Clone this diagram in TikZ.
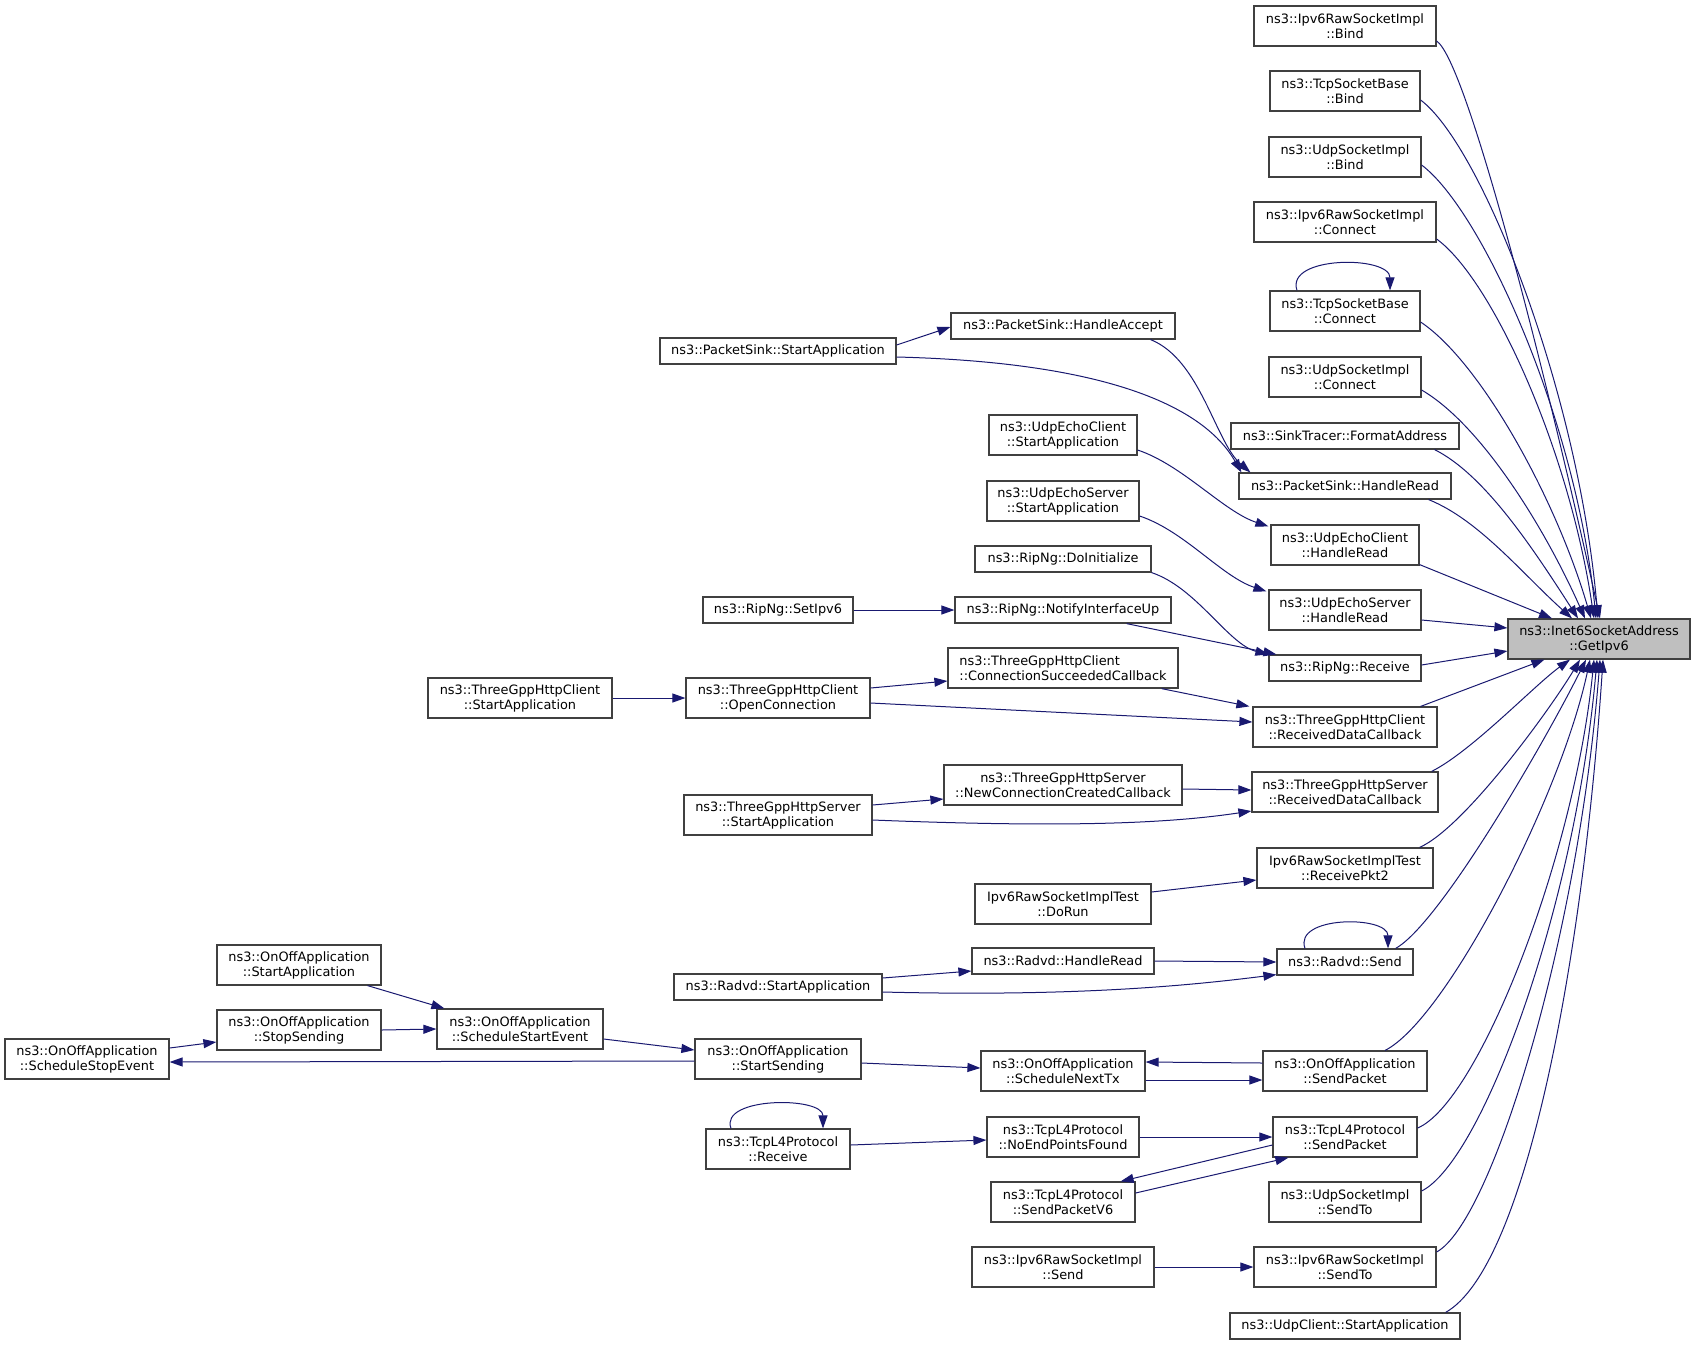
\documentclass[tikz,border=0pt]{standalone}
\usepackage{fontspec}
\setmainfont{DejaVu Sans}
\usetikzlibrary{arrows.meta}
\definecolor{callblue}{HTML}{191970}
\definecolor{boxgrey}{HTML}{404040}
\definecolor{rootgrey}{HTML}{BFBFBF}

\begin{document}
\begin{tikzpicture}[%
    >={Triangle[length=13pt,width=9pt]}, % Filled arrows as in the call graph
    x=1pt, y=1pt,                        % One unit is one pixel
    ]
% -------------------------------------------------
% A few box styles
\tikzset{
  base/.style={draw=boxgrey, line width=1.2pt, fill=white, inner sep=0pt,
    align=center, font=\fontsize{12.9}{15}\selectfont},
  fn/.style={base, minimum height=40pt},
  fnone/.style={base, minimum height=26pt},
  root/.style={fn, fill=rootgrey},
  wd/.style={minimum width=#1pt},
  % Connector line style
  call/.style={->, draw=callblue, line width=1pt},
}
\useasboundingbox (0,0) rectangle (1695,-1345);
% -------------------------------------------------
% Start by placing the nodes
\node [root, wd=182] (get) at (1599,-639) {ns3::Inet6SocketAddress\\::GetIpv6};
% Direct callers
\node [fn, wd=182] (bind6) at (1345,-26) {ns3::Ipv6RawSocketImpl\\::Bind};
\node [fn, wd=150] (tcpbind) at (1345,-91) {ns3::TcpSocketBase\\::Bind};
\node [fn, wd=152] (udpbind) at (1345,-157) {ns3::UdpSocketImpl\\::Bind};
\node [fn, wd=182] (conn6) at (1345,-222) {ns3::Ipv6RawSocketImpl\\::Connect};
\node [fn, wd=150] (tcpconn) at (1345,-311) {ns3::TcpSocketBase\\::Connect};
\node [fn, wd=152] (udpconn) at (1345,-377) {ns3::UdpSocketImpl\\::Connect};
\node [fnone, wd=228] (fmtaddr) at (1345,-436) {ns3::SinkTracer::FormatAddress};
\node [fnone, wd=212] (sinkread) at (1345,-486) {ns3::PacketSink::HandleRead};
\node [fn, wd=148] (ecread) at (1345,-545) {ns3::UdpEchoClient\\::HandleRead};
\node [fn, wd=152] (esread) at (1345,-610) {ns3::UdpEchoServer\\::HandleRead};
\node [fnone, wd=152] (riprecv) at (1345,-668) {ns3::RipNg::Receive};
\node [fn, wd=184] (hcrecv) at (1345,-727) {ns3::ThreeGppHttpClient\\::ReceivedDataCallback};
\node [fn, wd=186] (hsrecv) at (1345,-792) {ns3::ThreeGppHttpServer\\::ReceivedDataCallback};
\node [fn, wd=176] (pkt2) at (1345,-868) {Ipv6RawSocketImplTest\\::ReceivePkt2};
\node [fnone, wd=136] (rsend) at (1345,-962) {ns3::Radvd::Send};
\node [fn, wd=164] (oosend) at (1345,-1071) {ns3::OnOffApplication\\::SendPacket};
\node [fn, wd=144] (tcpsend) at (1345,-1137) {ns3::TcpL4Protocol\\::SendPacket};
\node [fn, wd=152] (udpsendto) at (1345,-1202) {ns3::UdpSocketImpl\\::SendTo};
\node [fn, wd=182] (sendto6) at (1345,-1267) {ns3::Ipv6RawSocketImpl\\::SendTo};
\node [fnone, wd=230] (ucstart) at (1345,-1326) {ns3::UdpClient::StartApplication};
% Second level
\node [fnone, wd=224] (accept) at (1063,-326) {ns3::PacketSink::HandleAccept};
\node [fn, wd=148] (ecstart) at (1063,-435) {ns3::UdpEchoClient\\::StartApplication};
\node [fn, wd=152] (esstart) at (1063,-501) {ns3::UdpEchoServer\\::StartApplication};
\node [fnone, wd=176] (ripinit) at (1063,-559) {ns3::RipNg::DoInitialize};
\node [fnone, wd=216] (ripup) at (1063,-610) {ns3::RipNg::NotifyInterfaceUp};
\node [fn, wd=230, align=left] (connok) at (1063,-668) {ns3::ThreeGppHttpClient\\::ConnectionSucceededCallback};
\node [fn, wd=238] (newconn) at (1063,-785) {ns3::ThreeGppHttpServer\\::NewConnectionCreatedCallback};
\node [fn, wd=176] (dorun) at (1063,-904) {Ipv6RawSocketImplTest\\::DoRun};
\node [fnone, wd=182] (rread) at (1063,-961) {ns3::Radvd::HandleRead};
\node [fn, wd=164] (nexttx) at (1063,-1071) {ns3::OnOffApplication\\::ScheduleNextTx};
\node [fn, wd=152] (noend) at (1063,-1137) {ns3::TcpL4Protocol\\::NoEndPointsFound};
\node [fn, wd=144] (sendv6) at (1063,-1202) {ns3::TcpL4Protocol\\::SendPacketV6};
\node [fn, wd=182] (rawsend) at (1063,-1267) {ns3::Ipv6RawSocketImpl\\::Send};
% Third level
\node [fnone, wd=236] (sinkstart) at (778,-351) {ns3::PacketSink::StartApplication};
\node [fnone, wd=150] (setipv6) at (778,-610) {ns3::RipNg::SetIpv6};
\node [fn, wd=184] (openconn) at (778,-698) {ns3::ThreeGppHttpClient\\::OpenConnection};
\node [fn, wd=188] (hsstart) at (778,-815) {ns3::ThreeGppHttpServer\\::StartApplication};
\node [fnone, wd=208] (rstart) at (778,-987) {ns3::Radvd::StartApplication};
\node [fn, wd=166] (startsend) at (778,-1059) {ns3::OnOffApplication\\::StartSending};
\node [fn, wd=144] (tcprecv) at (778,-1149) {ns3::TcpL4Protocol\\::Receive};
% Outer levels
\node [fn, wd=184] (hcstart) at (520,-698) {ns3::ThreeGppHttpClient\\::StartApplication};
\node [fn, wd=166] (schedstart) at (520,-1029) {ns3::OnOffApplication\\::ScheduleStartEvent};
\node [fn, wd=164] (oostart) at (299,-965) {ns3::OnOffApplication\\::StartApplication};
\node [fn, wd=164] (stopsend) at (299,-1030) {ns3::OnOffApplication\\::StopSending};
\node [fn, wd=164] (schedstop) at (87,-1059) {ns3::OnOffApplication\\::ScheduleStopEvent};

% -------------------------------------------------
% Calls into GetIpv6 from above
\draw [call] ([yshift=-15pt]bind6.east) .. controls +(30,-20) and +(-55,250) .. ([xshift=1pt]get.north);
\draw [call] ([yshift=-9pt]tcpbind.east) .. controls +(60,-45) and +(-20,230) .. ([xshift=-1pt]get.north);
\draw [call] ([yshift=-8pt]udpbind.east) .. controls +(60,-45) and +(-20,200) .. ([xshift=-3pt]get.north);
\draw [call] ([yshift=-17pt]conn6.east) .. controls +(55,-40) and +(-25,170) .. ([xshift=-5pt]get.north);
\draw [call] ([yshift=-11pt]tcpconn.east) .. controls +(60,-40) and +(-35,120) .. ([xshift=-8pt]get.north);
\draw [call] ([yshift=-13pt]udpconn.east) .. controls +(60,-35) and +(-40,90) .. ([xshift=-14pt]get.north);
\draw [call] ([xshift=-25pt]fmtaddr.south east) .. controls +(50,-25) and +(-45,70) .. ([xshift=-21pt]get.north);
\draw [call] ([xshift=-23pt]sinkread.south east) .. controls +(50,-20) and +(-50,45) .. ([xshift=-27pt]get.north);
\draw [call] ([yshift=1pt]ecread.south east) -- ([xshift=-47pt]get.north);
\draw [call] ([yshift=-10pt]esread.east) -- ([yshift=11pt]get.west);
\draw [call] ([yshift=3pt]riprecv.east) -- ([yshift=-12pt]get.west);
\draw [call] ([xshift=-17pt]hcrecv.north east) -- ([xshift=37pt]get.south west);
% Calls into GetIpv6 from below
\draw [call] ([xshift=-7pt]hsrecv.north east) .. controls +(40,20) and +(-35,-25) .. ([xshift=-29pt]get.south);
\draw [call] ([xshift=-14pt]pkt2.north east) .. controls +(45,20) and +(-30,-50) .. ([xshift=-19pt]get.south);
\draw [call] ([xshift=-18pt]rsend.north east) .. controls +(45,25) and +(-40,-80) .. ([xshift=-13pt]get.south);
\draw [call] ([xshift=40pt]oosend.north) .. controls +(60,30) and +(-30,-140) .. ([xshift=-9pt]get.south);
\draw [call] ([yshift=9pt]tcpsend.east) .. controls +(60,25) and +(-20,-200) .. ([xshift=-5pt]get.south);
\draw [call] ([yshift=11pt]udpsendto.east) .. controls +(60,30) and +(-22,-250) .. ([xshift=-2pt]get.south);
\draw [call] ([yshift=15pt]sendto6.east) .. controls +(55,30) and +(-22,-280) .. ([xshift=1pt]get.south);
\draw [call] ([xshift=-15pt]ucstart.north east) .. controls +(80,45) and +(-20,-300) .. ([xshift=4pt]get.south);

% Recursive calls
\draw [call] ([xshift=-48pt]tcpconn.north) .. controls +(-12,35) and +(0,35) .. ([xshift=45pt]tcpconn.north);
\draw [call] ([xshift=-40pt]rsend.north) .. controls +(-12,33) and +(0,33) .. ([xshift=43pt]rsend.north);
\draw [call] ([xshift=-47pt]tcprecv.north) .. controls +(-12,32) and +(0,32) .. ([xshift=45pt]tcprecv.north);

% Packet sink, echo and RIPng callers
\draw [call] ([xshift=-25pt]accept.south east) .. controls +(50,-20) and +(-35,30) .. ([xshift=12pt]sinkread.north west);
\draw [call] ([yshift=-6pt]sinkstart.east) .. controls +(200,-5) and +(-40,70) .. ([xshift=3pt]sinkread.north west);
\draw [call] ([yshift=6pt]sinkstart.east) -- ([yshift=-1pt]accept.west);
\draw [call] ([yshift=-15pt]ecstart.east) .. controls +(45,-15) and +(-45,15) .. ([xshift=-2pt,yshift=-2pt]ecread.north west);
\draw [call] ([yshift=-15pt]esstart.east) .. controls +(45,-15) and +(-45,15) .. ([xshift=-2pt,yshift=-2pt]esread.north west);
\draw [call] (ripinit.south east) .. controls +(45,-15) and +(-40,10) .. (riprecv.north west);
\draw [call] ([xshift=-45pt]ripup.south east) -- ([xshift=8pt]riprecv.north west);
\draw [call] (setipv6.east) -- (ripup.west);

% HTTP client and server callers
\draw [call] ([xshift=-17pt]connok.south east) -- ([xshift=-3pt]hcrecv.north west);
\draw [call] ([yshift=10pt]openconn.east) -- ([yshift=-13pt]connok.west);
\draw [call] ([yshift=-5pt]openconn.east) -- ([yshift=5pt]hcrecv.west);
\draw [call] (hcstart.east) -- (openconn.west);
\draw [call] ([yshift=-4pt]newconn.east) -- ([yshift=2pt]hsrecv.west);
\draw [call] ([yshift=10pt]hsstart.east) -- ([yshift=-14pt]newconn.west);
\draw [call] ([yshift=-5pt]hsstart.east) .. controls +(200,-8) and +(-80,-12) .. ([yshift=-19pt]hsrecv.west);
\draw [call] ([yshift=12pt]dorun.east) -- ([yshift=-12pt]pkt2.west);

% Radvd callers
\draw [call] (rread.east) -- (rsend.west);
\draw [call] ([yshift=9pt]rstart.east) -- ([yshift=-10pt]rread.west);
\draw [call] ([yshift=-5pt]rstart.east) .. controls +(200,-5) and +(-80,-10) .. ([yshift=1pt]rsend.south west);

% OnOff application callers
\draw [call] ([xshift=-14pt]oostart.south east) -- ([xshift=8pt]schedstart.north west);
\draw [call] (stopsend.east) -- (schedstart.west);
\draw [call] ([yshift=11pt]schedstop.east) -- ([yshift=-12pt]stopsend.west);
\draw [call] ([yshift=-10pt]schedstart.east) -- ([yshift=9pt]startsend.west);
\draw [call] ([yshift=-2pt]startsend.west) -- ([yshift=-3pt]schedstop.east);
\draw [call] ([yshift=-4pt]startsend.east) -- ([yshift=3pt]nexttx.west);
\draw [call] ([yshift=8pt]oosend.west) -- ([yshift=9pt]nexttx.east);
\draw [call] ([yshift=-9pt]nexttx.east) -- ([yshift=-9pt]oosend.west);

% TCP and raw socket callers
\draw [call] ([yshift=4pt]tcprecv.east) -- ([yshift=-3pt]noend.west);
\draw [call] (noend.east) -- (tcpsend.west);
\draw [call] ([yshift=-8pt]tcpsend.west) -- ([xshift=-15pt]sendv6.north east);
\draw [call] ([yshift=9pt]sendv6.east) -- ([xshift=16pt]tcpsend.south west);
\draw [call] (rawsend.east) -- (sendto6.west);
% -------------------------------------------------
\end{tikzpicture}
\end{document}
